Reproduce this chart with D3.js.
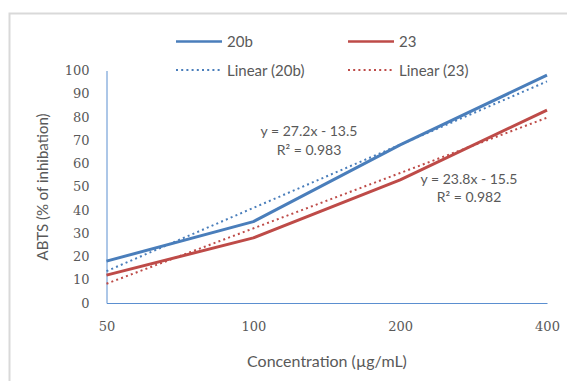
<!DOCTYPE html>
<html>
<head>
<meta charset="utf-8">
<script src="https://cdn.jsdelivr.net/npm/d3@7"></script>
<style>
  body { margin: 0; background: #fff; }
  svg { display: block; }
</style>
</head>
<body>
<script>
// chart data
var concentrations = ['50', '100', '200', '400'];
var series20b = [18, 35, 68, 98];
var series23 = [12, 28, 53, 83];
var seriesNames = ['20b', '23'];
var trendSlopes = [27.2, 23.8];
var trendIntercepts = [-13.5, -15.5];
var trendR2 = [0.983, 0.982];
var yTicks = [0, 10, 20, 30, 40, 50, 60, 70, 80, 90, 100];

var width = 567, height = 381;
var blue = '#4a7ebb', red = '#be4b48';
var textColor = '#595959';
var sansFont = 'Lato, "Open Sans", sans-serif';
var serifFont = '"DejaVu Serif", serif';

var svg = d3.select('body')
  .append('svg')
    .attr('width', width)
    .attr('height', height);

// outer chart frame
svg.append('rect')
  .attr('x', 9.5)
  .attr('y', 13.5)
  .attr('width', 700)
  .attr('height', 500)
  .attr('fill', 'none')
  .attr('stroke', '#d9d9d9')
  .attr('stroke-width', 2);

var x = d3.scalePoint()
  .domain(concentrations)
  .range([106.5, 547])
  .padding(0);

var y = d3.scaleLinear()
  .domain([0, 100])
  .range([303, 70.5]);

// y axis
var yAxis = svg.append('g')
  .attr('transform', 'translate(106.5,0)')
  .call(d3.axisLeft(y).tickValues(yTicks).tickSize(0).tickPadding(17));
yAxis.select('.domain').attr('stroke', '#5b8fd0');
yAxis.selectAll('text')
  .attr('fill', textColor)
  .style('font-family', serifFont)
  .style('font-size', '13px');

// x axis
var xAxis = svg.append('g')
  .attr('transform', 'translate(0,303)')
  .call(d3.axisBottom(x).tickSize(0).tickPadding(19));
xAxis.select('.domain').attr('stroke', '#5b8fd0');
xAxis.selectAll('text')
  .attr('fill', textColor)
  .style('font-family', serifFont)
  .style('font-size', '13px');

// axis titles
svg.append('text')
  .attr('x', 327)
  .attr('y', 367)
  .attr('text-anchor', 'middle')
  .attr('fill', textColor)
  .style('font-family', sansFont)
  .style('font-size', '16px')
  .text('Concentration (\u00b5g/mL)');

svg.append('text')
  .attr('transform', 'translate(48,187) rotate(-90)')
  .attr('text-anchor', 'middle')
  .attr('fill', textColor)
  .style('font-family', sansFont)
  .style('font-size', '15px')
  .text('ABTS (% of inhibation)');

// data lines
var line = d3.line()
  .x(function(d, i){ return x(concentrations[i]); })
  .y(function(d){ return y(d); });

var allSeries = [series20b, series23];
var colors = [blue, red];

// trend lines (from the fitted equations, x = 1..n)
allSeries.forEach(function(s, k) {
  var trend = s.map(function(d, i){
    return trendSlopes[k] * (i + 1) + trendIntercepts[k];
  });
  svg.append('path')
    .datum(trend)
    .attr('d', line)
    .attr('fill', 'none')
    .attr('stroke', colors[k])
    .attr('stroke-width', 2)
    .attr('stroke-dasharray', '2,3.2');
});

allSeries.forEach(function(s, k) {
  svg.append('path')
    .datum(s)
    .attr('d', line)
    .attr('fill', 'none')
    .attr('stroke', colors[k])
    .attr('stroke-width', 3)
    .attr('stroke-linejoin', 'round');
});

// equation labels
var eqPos = [[309, 136, 155], [469, 184, 202]];
eqPos.forEach(function(p, k) {
  var eq = svg.append('text')
    .attr('text-anchor', 'middle')
    .attr('fill', textColor)
    .style('font-family', sansFont)
    .style('font-size', '14px');
  eq.append('tspan')
    .attr('x', p[0]).attr('y', p[1])
    .text('y = ' + trendSlopes[k] + 'x - ' + Math.abs(trendIntercepts[k]));
  eq.append('tspan')
    .attr('x', p[0]).attr('y', p[2])
    .text('R\u00b2 = ' + trendR2[k]);
});

// legend
var legendCols = [176, 348];
seriesNames.forEach(function(name, k) {
  var lx = legendCols[k];
  svg.append('line')
    .attr('x1', lx).attr('x2', lx + 46)
    .attr('y1', 41.5).attr('y2', 41.5)
    .attr('stroke', colors[k])
    .attr('stroke-width', 2.5);
  svg.append('text')
    .attr('x', lx + 51).attr('y', 47)
    .attr('fill', textColor)
    .style('font-family', sansFont)
    .style('font-size', '15px')
    .text(name);
  svg.append('line')
    .attr('x1', lx).attr('x2', lx + 44)
    .attr('y1', 70).attr('y2', 70)
    .attr('stroke', colors[k])
    .attr('stroke-width', 2)
    .attr('stroke-dasharray', '2,3.2');
  svg.append('text')
    .attr('x', lx + 51).attr('y', 75.5)
    .attr('fill', textColor)
    .style('font-family', sansFont)
    .style('font-size', '15px')
    .text('Linear (' + name + ')');
});
</script>
</body>
</html>
